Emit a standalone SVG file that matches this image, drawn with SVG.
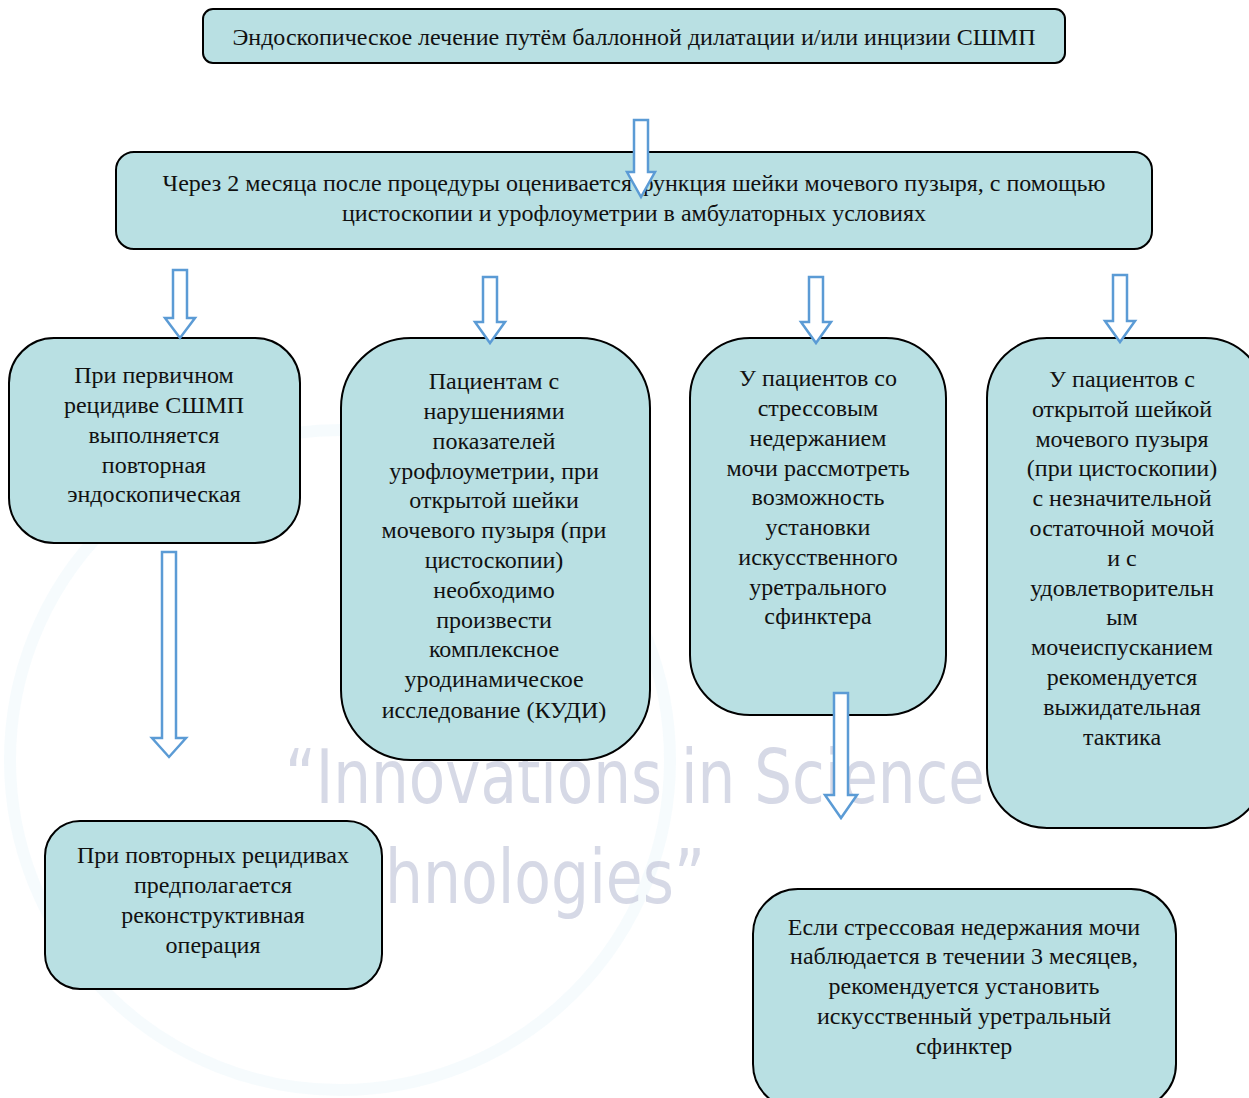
<svg xmlns="http://www.w3.org/2000/svg" width="1249" height="1098" viewBox="0 0 1249 1098">
<style>
.node{fill:#b9e0e3;stroke:#000;stroke-width:2}
.t{font-family:"Liberation Serif","Times New Roman",serif;font-size:24px;fill:#111;text-anchor:middle}
.arr{fill:#fff;stroke:#5b9bd5;stroke-width:2.5;stroke-linejoin:miter}
.wm{font-family:"DejaVu Sans Condensed","DejaVu Sans",sans-serif;font-stretch:condensed;font-size:75px;fill:#c6c9dc;opacity:0.7}
</style>
<rect width="1249" height="1098" fill="#fff"/>
<g id="watermark">
<circle cx="340" cy="760" r="330" fill="none" stroke="#e6f4f8" stroke-width="12" opacity="0.35"/>
<text class="wm" x="285" y="803" textLength="700" lengthAdjust="spacingAndGlyphs">“Innovations in Science</text>
<text class="wm" x="385" y="903" textLength="320" lengthAdjust="spacingAndGlyphs">hnologies”</text>
</g>
<g id="n0"><rect class="node" x="203" y="9" width="862" height="54" rx="10"/>
<text class="t" x="634" y="45">Эндоскопическое лечение путём баллонной дилатации и/или инцизии СШМП</text></g>
<g id="n1"><rect class="node" x="116" y="152" width="1036" height="97" rx="18"/>
<text class="t" x="634" y="191">Через 2 месяца после процедуры оценивается функция шейки мочевого пузыря, с помощью</text>
<text class="t" x="634" y="221">цистоскопии и урофлоуметрии в амбулаторных условиях</text></g>
<g id="nA"><rect class="node" x="9" y="338" width="291" height="205" rx="45"/>
<text class="t" x="154" y="383">При первичном</text>
<text class="t" x="154" y="413">рецидиве СШМП</text>
<text class="t" x="154" y="443">выполняется</text>
<text class="t" x="154" y="473">повторная</text>
<text class="t" x="154" y="502">эндоскопическая</text></g>
<g id="nB"><rect class="node" x="341" y="338" width="309" height="422" rx="70"/>
<text class="t" x="494" y="389">Пациентам с</text>
<text class="t" x="494" y="419">нарушениями</text>
<text class="t" x="494" y="449">показателей</text>
<text class="t" x="494" y="479">урофлоуметрии, при</text>
<text class="t" x="494" y="508">открытой шейки</text>
<text class="t" x="494" y="538">мочевого пузыря (при</text>
<text class="t" x="494" y="568">цистоскопии)</text>
<text class="t" x="494" y="598">необходимо</text>
<text class="t" x="494" y="628">произвести</text>
<text class="t" x="494" y="657">комплексное</text>
<text class="t" x="494" y="687">уродинамическое</text>
<text class="t" x="494" y="718">исследование (КУДИ)</text></g>
<g id="nC"><rect class="node" x="690" y="338" width="256" height="377" rx="60"/>
<text class="t" x="818" y="386">У пациентов со</text>
<text class="t" x="818" y="416">стрессовым</text>
<text class="t" x="818" y="446">недержанием</text>
<text class="t" x="818" y="476">мочи рассмотреть</text>
<text class="t" x="818" y="505">возможность</text>
<text class="t" x="818" y="535">установки</text>
<text class="t" x="818" y="565">искусственного</text>
<text class="t" x="818" y="595">уретрального</text>
<text class="t" x="818" y="624">сфинктера</text></g>
<g id="nD"><rect class="node" x="987" y="338" width="278" height="490" rx="60"/>
<text class="t" x="1122" y="387">У пациентов с</text>
<text class="t" x="1122" y="417">открытой шейкой</text>
<text class="t" x="1122" y="447">мочевого пузыря</text>
<text class="t" x="1122" y="476">(при цистоскопии)</text>
<text class="t" x="1122" y="506">с незначительной</text>
<text class="t" x="1122" y="536">остаточной мочой</text>
<text class="t" x="1122" y="566">и с</text>
<text class="t" x="1122" y="596">удовлетворительн</text>
<text class="t" x="1122" y="625">ым</text>
<text class="t" x="1122" y="655">мочеиспусканием</text>
<text class="t" x="1122" y="685">рекомендуется</text>
<text class="t" x="1122" y="715">выжидательная</text>
<text class="t" x="1122" y="745">тактика</text></g>
<g id="nE"><rect class="node" x="45" y="821" width="337" height="168" rx="35"/>
<text class="t" x="213" y="863">При повторных рецидивах</text>
<text class="t" x="213" y="893">предполагается</text>
<text class="t" x="213" y="923">реконструктивная</text>
<text class="t" x="213" y="953">операция</text></g>
<g id="nF"><rect class="node" x="753" y="889" width="423" height="220" rx="45"/>
<text class="t" x="964" y="935">Если стрессовая недержания мочи</text>
<text class="t" x="964" y="964">наблюдается в течении 3 месяцев,</text>
<text class="t" x="964" y="994">рекомендуется установить</text>
<text class="t" x="964" y="1024">искусственный уретральный</text>
<text class="t" x="964" y="1054">сфинктер</text></g>
<g id="connectors">
<path class="arr" d="M634,120 H648 V172 H655 L641,197 L627,172 H634 Z"/>
<path class="arr" d="M173,270 H187 V318 H195 L180,338 L165,318 H173 Z"/>
<path class="arr" d="M483,277 H497 V322 H505 L490,343 L475,322 H483 Z"/>
<path class="arr" d="M809,277 H823 V322 H831 L816,343 L801,322 H809 Z"/>
<path class="arr" d="M1113,275 H1127 V321 H1135 L1120,342 L1105,321 H1113 Z"/>
<path class="arr" d="M162,552 H176 V738 H186 L169,757 L152,738 H162 Z"/>
<path class="arr" d="M834,693 H848 V795 H857 L841,818 L825,795 H834 Z"/>
</g>
</svg>
